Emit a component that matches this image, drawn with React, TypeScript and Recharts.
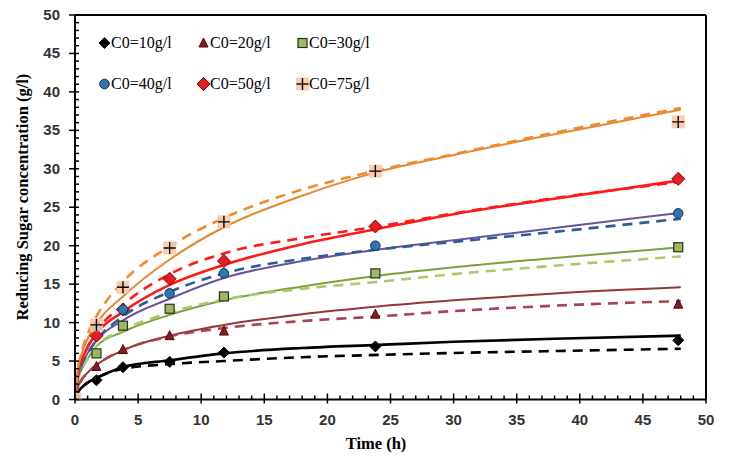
import { ComposedChart, Line, Scatter, XAxis, YAxis, ReferenceLine, Legend } from "recharts";

// sampling times (h) of the measured points
const sampleTimes = [0, 1.7, 3.8, 7.5, 11.8, 23.8, 47.8];
const measured10 = [0, 2.5, 4.2, 4.9, 6.1, 6.9, 7.7];
const measured20 = [0, 4.3, 6.5, 8.3, 8.9, 11.1, 12.4];
const measured30 = [0, 6.0, 9.6, 11.8, 13.4, 16.4, 19.8];
const measured40 = [0, 9.5, 11.7, 13.8, 16.4, 20.0, 24.2];
const measured50 = [0, 8.3, 11.7, 15.7, 18.0, 22.5, 28.7];
const measured75 = [0, 9.7, 14.6, 19.7, 23.1, 29.7, 36.1];

// curves
const curveTimes = [0, 0.25, 0.5, 1, 1.7, 3.8, 7.5, 11.8, 18, 24, 30, 38, 48];
const fit10 = [0, 1.0, 1.5, 2.2, 2.8, 4.2, 5.1, 6.0, 6.7, 7.1, 7.5, 7.9, 8.3];
const model10 = [0, 1.0, 1.5, 2.2, 2.8, 4.0, 4.6, 5.0, 5.5, 5.8, 6.05, 6.3, 6.6];
const fit20 = [0, 1.7, 2.5, 3.5, 4.5, 6.4, 8.3, 9.7, 11.1, 12.1, 12.9, 13.8, 14.6];
const model20 = [0, 1.7, 2.5, 3.5, 4.5, 6.4, 8.2, 9.3, 10.2, 10.8, 11.5, 12.2, 12.8];
const fit30 = [0, 2.7, 3.8, 5.3, 6.9, 8.8, 11.0, 12.9, 14.7, 16.1, 17.2, 18.4, 19.8];
const model30 = [0, 2.7, 3.8, 5.3, 6.9, 9.0, 11.3, 13.0, 14.4, 15.3, 16.3, 17.4, 18.6];
const fit40 = [0, 3.1, 4.4, 6.0, 7.7, 10.3, 13.1, 15.8, 18.0, 19.5, 20.7, 22.3, 24.3];
const model40 = [0, 3.1, 4.4, 6.0, 7.7, 10.8, 14.0, 16.4, 18.3, 19.5, 20.5, 21.8, 23.5];
const fit50 = [0, 3.6, 5.0, 6.8, 8.6, 11.4, 14.9, 17.5, 20.2, 22.2, 24.1, 26.1, 28.5];
const model50 = [0, 3.6, 5.0, 6.8, 8.8, 12.3, 16.3, 19.0, 21.0, 22.5, 24.2, 26.2, 28.3];
const fit75 = [0, 4.2, 5.8, 7.9, 9.9, 13.4, 18.2, 22.4, 26.5, 29.6, 31.8, 34.5, 37.7];
const model75 = [0, 4.2, 6.0, 8.5, 10.8, 15.3, 19.9, 23.6, 27.3, 29.8, 31.9, 34.7, 37.9];

const legendNames = ["C0=10g/l", "C0=20g/l", "C0=30g/l", "C0=40g/l", "C0=50g/l", "C0=75g/l"];
const axisTicks = Array.from({ length: 51 }, (_, i) => i);

const pts = (ts: number[], ys: number[]) => ts.map((x, i) => ({ x, y: ys[i] }));

// marker shapes
const Diamond = ({ cx, cy, r, fill, stroke }: any) => (
  <polygon
    points={`${cx},${cy - r} ${cx + r},${cy} ${cx},${cy + r} ${cx - r},${cy}`}
    fill={fill}
    stroke={stroke}
    strokeWidth={1}
  />
);
const Triangle = ({ cx, cy }: any) => (
  <polygon
    points={`${cx},${cy - 5} ${cx + 4.5},${cy + 4} ${cx - 4.5},${cy + 4}`}
    fill="#8b1a1a"
    stroke="#4a0d0d"
    strokeWidth={1}
  />
);
const Square = ({ cx, cy }: any) => (
  <rect x={cx - 4.5} y={cy - 4.5} width={9} height={9} fill="#9bbb59" stroke="#2b2b2b" strokeWidth={1.2} />
);
const Dot = ({ cx, cy }: any) => <circle cx={cx} cy={cy} r={4.8} fill="#2e75b6" stroke="#1f3050" strokeWidth={1} />;
const Plus = ({ cx, cy }: any) => (
  <g>
    <rect x={cx - 6.5} y={cy - 6.5} width={13} height={13} fill="#f8c9a8" opacity={0.9} />
    <line x1={cx - 6} x2={cx + 6} y1={cy} y2={cy} stroke="#000" strokeWidth={1.4} />
    <line x1={cx} x2={cx} y1={cy - 6} y2={cy + 6} stroke="#000" strokeWidth={1.4} />
  </g>
);

const shapes = [
  (p: any) => <Diamond {...p} r={5.5} fill="#000" stroke="#000" />,
  (p: any) => <Triangle {...p} />,
  (p: any) => <Square {...p} />,
  (p: any) => <Dot {...p} />,
  (p: any) => <Diamond {...p} r={6.5} fill="#e41e26" stroke="#8b0000" />,
  (p: any) => <Plus {...p} />,
];

const XTick = ({ x, y, payload }: any) => {
  const major = payload.value % 5 === 0;
  return (
    <g>
      <line x1={x} x2={x} y1={major ? y - 6 : y - 4} y2={major ? y + 4 : y} stroke="#000" strokeWidth={1.5} />
      {major && (
        <text x={x} y={y + 25} textAnchor="middle" fontFamily="Liberation Sans" fontWeight="bold" fontSize={15} fill="#333">
          {payload.value}
        </text>
      )}
    </g>
  );
};

const YTick = ({ x, y, payload }: any) => {
  const major = payload.value % 5 === 0;
  return (
    <g>
      <line x1={major ? x - 6 : x} x2={x + 4} y1={y} y2={y} stroke="#000" strokeWidth={1.5} />
      {major && (
        <text x={x - 15} y={y + 5} textAnchor="end" fontFamily="Liberation Sans" fontWeight="bold" fontSize={15} fill="#333">
          {payload.value}
        </text>
      )}
    </g>
  );
};

const LegendBox = () => (
  <div style={{ display: "grid", gridTemplateColumns: "99px 99px 99px", rowGap: 21 }}>
    {legendNames.map((name, i) => (
      <div key={name} style={{ display: "flex", alignItems: "center", height: 20 }}>
        <svg width={13} height={14}>
          {shapes[i]({ cx: 6.5, cy: 7 })}
        </svg>
        <span style={{ fontFamily: "Liberation Serif", fontSize: 16, color: "#000" }}>{name}</span>
      </div>
    ))}
  </div>
);

export default function App() {
  const measured = [measured10, measured20, measured30, measured40, measured50, measured75];
  const fits = [fit10, fit20, fit30, fit40, fit50, fit75];
  const models = [model10, model20, model30, model40, model50, model75];
  const fitColors = ["#000000", "#953735", "#77a33a", "#6a559c", "#ff1a1a", "#e3892f"];
  const modelColors = ["#000000", "#a8434f", "#a9c96a", "#2f5c99", "#ff1a1a", "#f08a30"];
  const fitWidths = [2.6, 2, 2, 2, 2.6, 2];
  const drawOrder = [0, 1, 2, 4, 3, 5];

  return (
    <div style={{ position: "absolute", left: 0, top: 0, width: 731, height: 459, background: "#fff" }}>
      <ComposedChart width={731} height={459} margin={{ top: 15, right: 25, bottom: 19.5, left: 15 }}>
        <XAxis
          dataKey="x"
          type="number"
          domain={[0, 50]}
          ticks={axisTicks}
          interval={0}
          tickSize={0}
          tickMargin={0}
          tickLine={false}
          tick={<XTick />}
          height={40}
          axisLine={{ stroke: "#000", strokeWidth: 2 }}
          allowDataOverflow
        />
        <YAxis
          dataKey="y"
          type="number"
          domain={[0, 50]}
          ticks={axisTicks}
          interval={0}
          tickSize={0}
          tickMargin={0}
          tickLine={false}
          tick={<YTick />}
          width={60}
          axisLine={{ stroke: "#000", strokeWidth: 2 }}
          allowDataOverflow
        />
        <ReferenceLine y={50} stroke="#000" strokeWidth={2} />
        <ReferenceLine x={50} stroke="#000" strokeWidth={2} />
        {fits.map((f, i) => (
          <Line
            key={`fit${i}`}
            data={pts(curveTimes, f)}
            dataKey="y"
            type="monotone"
            stroke={fitColors[i]}
            strokeWidth={fitWidths[i]}
            dot={false}
            activeDot={false}
            isAnimationActive={false}
          />
        ))}
        {models.map((m, i) => (
          <Line
            key={`model${i}`}
            data={pts(curveTimes, m)}
            dataKey="y"
            type="monotone"
            stroke={modelColors[i]}
            strokeWidth={2.6}
            strokeDasharray="10 7"
            dot={false}
            activeDot={false}
            isAnimationActive={false}
          />
        ))}
        {drawOrder.map((i) => (
          <Scatter
            key={`pts${i}`}
            name={legendNames[i]}
            data={pts(sampleTimes, measured[i])}
            shape={shapes[i]}
            isAnimationActive={false}
          />
        ))}
        <Legend
          layout="horizontal"
          verticalAlign="middle"
          align="center"
          content={<LegendBox />}
          wrapperStyle={{ left: 98, top: 33, width: 300 }}
        />
      </ComposedChart>
      <div
        style={{
          position: "absolute",
          left: 376,
          top: 444,
          transform: "translate(-50%, -50%)",
          fontFamily: "Liberation Serif",
          fontWeight: "bold",
          fontSize: 16.5,
          whiteSpace: "nowrap",
        }}
      >
        Time (h)
      </div>
      <div
        style={{
          position: "absolute",
          left: 23,
          top: 197,
          transform: "translate(-50%, -50%) rotate(-90deg)",
          fontFamily: "Liberation Serif",
          fontWeight: "bold",
          fontSize: 16.5,
          whiteSpace: "nowrap",
        }}
      >
        Reducing Sugar concentration (g/l)
      </div>
    </div>
  );
}
